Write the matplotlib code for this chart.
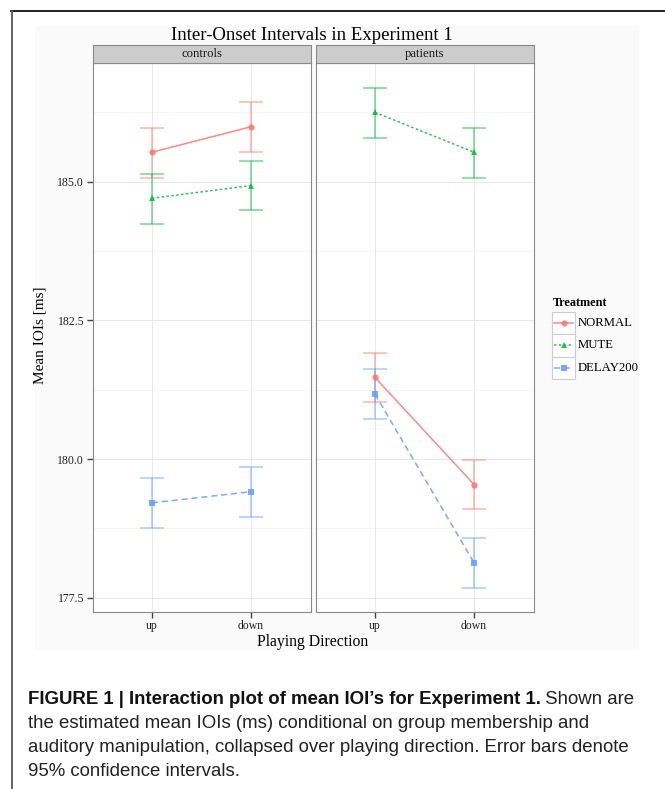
import matplotlib
matplotlib.use("Agg")
import matplotlib.pyplot as plt
from matplotlib.patches import Rectangle

# values (mean IOI, lower / upper 95% CI)
directions = ['up', 'down']
groups = ['controls', 'patients']
treatments = ['NORMAL', 'MUTE', 'DELAY200']

ctrl_mean = [[185.53, 185.99], [184.70, 184.93], [179.21, 179.41]]
ctrl_lo = [[185.07, 185.54], [184.24, 184.48], [178.76, 178.96]]
ctrl_hi = [[185.97, 186.43], [185.14, 185.38], [179.65, 179.85]]

pat_mean = [[181.47, 179.54], [186.25, 185.53], [181.17, 178.13]]
pat_lo = [[181.02, 179.09], [185.79, 185.07], [180.73, 177.68]]
pat_hi = [[181.91, 179.99], [186.68, 185.96], [181.62, 178.58]]

yticks = [177.5, 180.0, 182.5, 185.0]
yminor = [178.75, 181.25, 183.75, 186.25]

colors = ['#F8766D', '#00BA38', '#619CFF']
markers = ['o', '^', 's']
dashes = [None, (1.6, 1.6), (4, 2.5)]

W, H = 665, 789
fig = plt.figure(figsize=(W / 100, H / 100), dpi=100)
fig.patch.set_facecolor('white')
plt.rcParams['font.family'] = ['Liberation Serif', 'DejaVu Serif']


def rect(x0, y0, x1, y1):
    # pixel box (top-left origin) -> figure fraction
    return [x0 / W, 1 - y1 / H, (x1 - x0) / W, (y1 - y0) / H]


# outer frame and plot background
bg = fig.add_axes(rect(0, 0, W, H), zorder=-5)
bg.set_xlim(0, W)
bg.set_ylim(H, 0)
bg.axis('off')
bg.add_patch(Rectangle((35, 26), 604, 624, facecolor='#fafafa', edgecolor='none'))
bg.plot([11, W], [10.5, 10.5], color='#111111', lw=1.3)
bg.plot([11.5, 11.5], [10.5, H], color='#555555', lw=1.3)

panel_x = [(92.5, 310.5), (315.5, 533.5)]
ptop, pbot = 63, 612
ylim = (180 - (pbot - 459) / 55.47, 180 + (459 - ptop) / 55.47)

data = [(ctrl_mean, ctrl_lo, ctrl_hi), (pat_mean, pat_lo, pat_hi)]
xs = [1, 2]

for gi, (g, (means, los, his)) in enumerate(zip(groups, data)):
    x0, x1 = panel_x[gi]
    ax = fig.add_axes(rect(x0, ptop, x1, pbot))
    ax.set_facecolor('white')
    ax.set_xlim(0.4, 2.6)
    ax.set_ylim(*ylim)
    for y in yminor:
        ax.axhline(y, color='#f3f3f3', lw=0.5, zorder=0)
    for y in yticks:
        ax.axhline(y, color='#e8e8e8', lw=0.7, zorder=0)
    for x in xs:
        ax.axvline(x, color='#e8e8e8', lw=0.7, zorder=0)

    for ti, t in enumerate(treatments):
        m = means[ti]
        err = [[m[k] - los[ti][k] for k in range(2)], [his[ti][k] - m[k] for k in range(2)]]
        ax.errorbar(xs, m, yerr=err, fmt='none', ecolor=colors[ti], elinewidth=1.1,
                    capsize=8.7, capthick=1.1, alpha=0.55, zorder=2)
        ln, = ax.plot(xs, m, color=colors[ti], lw=1.1, alpha=0.85, zorder=3,
                      marker=markers[ti], markersize=4.5, markeredgewidth=0)
        if dashes[ti] is not None:
            ln.set_dashes(dashes[ti])

    for s in ax.spines.values():
        s.set_color('#8a8a8a')
        s.set_linewidth(0.8)
    ax.set_xticks(xs)
    ax.set_xticklabels(directions, fontsize=8.5, color='#222222')
    ax.tick_params(axis='x', length=4, width=1, color='#444444', pad=2)
    if gi == 0:
        ax.set_yticks(yticks)
        ax.set_yticklabels(['%.1f' % v for v in yticks], fontsize=8.5, color='#222222')
        ax.tick_params(axis='y', length=4, width=1, color='#444444', pad=2)
    else:
        ax.set_yticks([])

    st = fig.add_axes(rect(x0, 45, x1, ptop))
    st.set_facecolor('#cccccc')
    st.set_xticks([])
    st.set_yticks([])
    for s in st.spines.values():
        s.set_color('#8a8a8a')
        s.set_linewidth(0.8)
    st.text(0.5, 0.5, g, ha='center', va='center', fontsize=9.2, color='#1a1a1a',
            transform=st.transAxes)

fig.text(312 / W, 1 - 35 / H, 'Inter-Onset Intervals in Experiment 1', ha='center',
         va='center', fontsize=13.5)
fig.text(313 / W, 1 - 642 / H, 'Playing Direction', ha='center', va='center', fontsize=11.3)
fig.text(40 / W, 1 - 335 / H, 'Mean IOIs [ms]', ha='center', va='center',
         rotation=90, fontsize=11)

# legend
lg = fig.add_axes(rect(552, 312, 575, 379))
lg.set_xlim(0, 1)
lg.set_ylim(3, 0)
lg.axis('off')
for ti, t in enumerate(treatments):
    lg.add_patch(Rectangle((0, ti), 1, 1, facecolor='white', edgecolor='#cccccc', lw=0.8,
                           clip_on=False))
    ln, = lg.plot([0.1, 0.9], [ti + 0.5, ti + 0.5], color=colors[ti], lw=1.1, alpha=0.85)
    if dashes[ti] is not None:
        ln.set_dashes(dashes[ti])
    lg.plot([0.5], [ti + 0.5], marker=markers[ti], color=colors[ti], markersize=4.5,
            markeredgewidth=0, alpha=0.85)
    lg.text(1.12, ti + 0.5, t, ha='left', va='center', fontsize=9.2, clip_on=False)
lg.text(0.02, -0.12, 'Treatment', ha='left', va='bottom', fontsize=8.8,
        fontweight='bold', clip_on=False)

# caption
cap_font = ['Liberation Sans', 'DejaVu Sans']
cs = 13.4
t1 = fig.text(27.5 / W, 1 - 704 / H, 'FIGURE 1 | Interaction plot of mean IOI\u2019s for Experiment 1.',
              ha='left', va='baseline', fontsize=cs, fontweight='bold', family=cap_font,
              color='#111111')
bg.annotate(' Shown are', xy=(1, 0), xycoords=t1, ha='left', va='bottom',
            fontsize=cs, family=cap_font, color='#222222')
cap_lines = ['the estimated mean IOIs (ms) conditional on group membership and',
             'auditory manipulation, collapsed over playing direction. Error bars denote',
             '95% confidence intervals.']
for i, line in enumerate(cap_lines):
    fig.text(27.5 / W, 1 - (728 + 24 * i) / H, line, ha='left', va='baseline',
             fontsize=cs, family=cap_font, color='#222222')

fig.savefig('out.png', dpi=100)
